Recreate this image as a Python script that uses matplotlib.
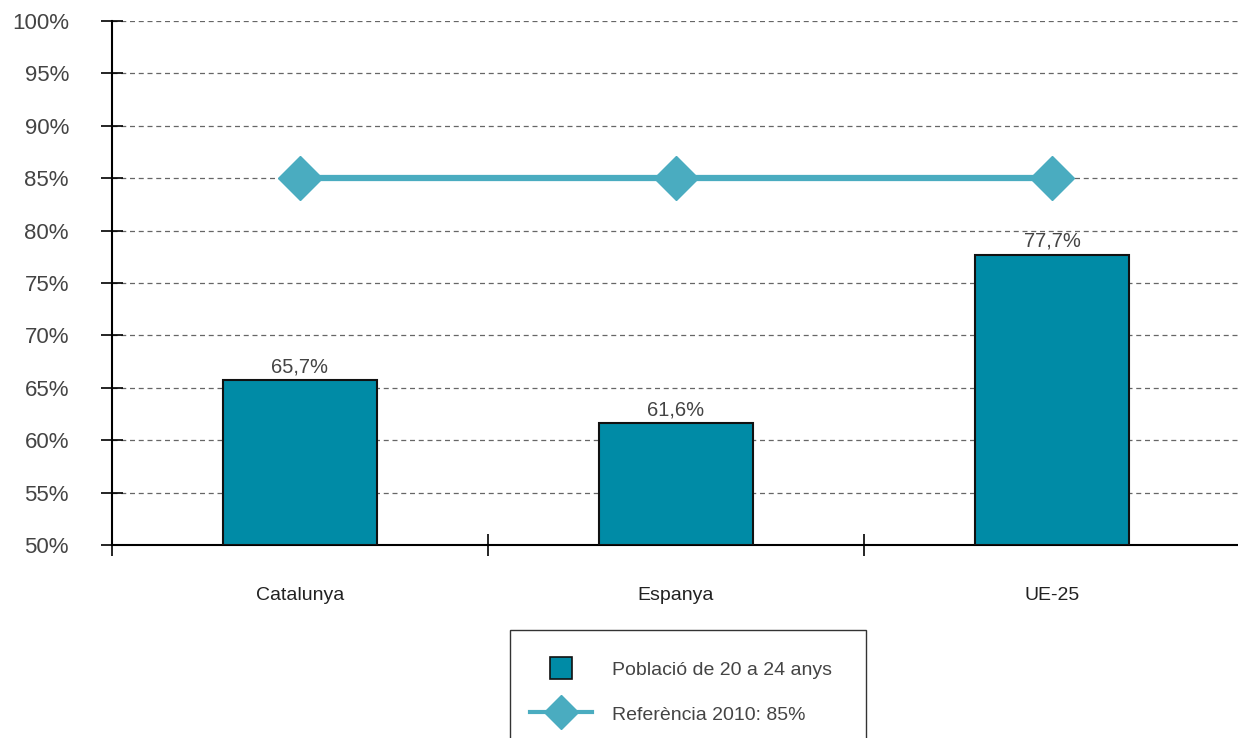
import matplotlib.pyplot as plt
from matplotlib.lines import Line2D
from matplotlib.patches import Rectangle

categories = ["Catalunya", "Espanya", "UE-25"]
values = [65.7, 61.6, 77.7]
reference = [85, 85, 85]
yticks = [50, 55, 60, 65, 70, 75, 80, 85, 90, 95, 100]

bar_color = "#008ba6"
line_color = "#4aacc0"
text_color = "#444444"

plt.rcParams["font.family"] = ["Liberation Sans", "DejaVu Sans"]

W, H = 1238, 738
fig = plt.figure(figsize=(W / 100, H / 100), dpi=100)
ax = fig.add_axes([112 / W, 193 / H, 1128 / W, 524 / H])

x = list(range(len(categories)))
ax.bar(x, [v - 50 for v in values], bottom=50, width=0.41, color=bar_color,
       edgecolor="#111111", linewidth=1.5, zorder=3)
for xi, v in zip(x, values):
    ax.text(xi, v + 0.4, f"{v:.1f}%".replace(".", ","), ha="center", va="bottom",
            fontsize=14.5, color=text_color)

ax.plot(x, reference, color=line_color, linewidth=4.5, marker="D",
        markersize=22, zorder=4)

ax.set_xlim(-0.5, 2.5)
ax.set_ylim(50, 100)
ax.set_yticks(yticks)
ax.set_yticklabels([f"{t}%" for t in yticks], fontsize=16, color=text_color)
ax.set_xticks([-0.5, 0.5, 1.5])
ax.set_xticklabels([])
ax.set_xticks(x, minor=True)
ax.set_xticklabels(categories, minor=True, fontsize=14, color="#222222")
ax.tick_params(axis="x", which="minor", length=0, pad=30)
ax.tick_params(axis="x", which="major", direction="inout", length=16, width=1.2)
ax.tick_params(axis="y", direction="inout", length=16, width=1.2, pad=23)

ax.yaxis.grid(True, linestyle=(0, (4, 3)), color="#666666", linewidth=0.9, zorder=0)
ax.set_axisbelow(True)
for s in ["top", "right"]:
    ax.spines[s].set_visible(False)
ax.spines["left"].set_linewidth(1.5)
ax.spines["bottom"].set_linewidth(1.5)

# legend box runs off the bottom edge of the image
fig.patches.append(Rectangle((510 / W, -0.02), 356 / W, (H - 630) / H + 0.02,
                             transform=fig.transFigure, fill=False,
                             edgecolor="#333333", linewidth=1.0))

handles = [
    Line2D([0], [0], linestyle="none", marker="s", markersize=16,
           markerfacecolor=bar_color, markeredgecolor="#111111", markeredgewidth=1.2),
    Line2D([0], [0], color=line_color, linewidth=3, marker="D", markersize=17),
]
labels = ["Població de 20 a 24 anys", "Referència 2010: 85%"]
leg = fig.legend(handles, labels, loc="upper left",
                 bbox_to_anchor=(530 / W, 1 - 660 / H), frameon=False,
                 fontsize=14, handlelength=3.2, handleheight=1.0,
                 handletextpad=1.0, borderpad=0, labelspacing=1.3,
                 borderaxespad=0)
for t in leg.get_texts():
    t.set_color(text_color)

fig.savefig("out.png", dpi=100)
